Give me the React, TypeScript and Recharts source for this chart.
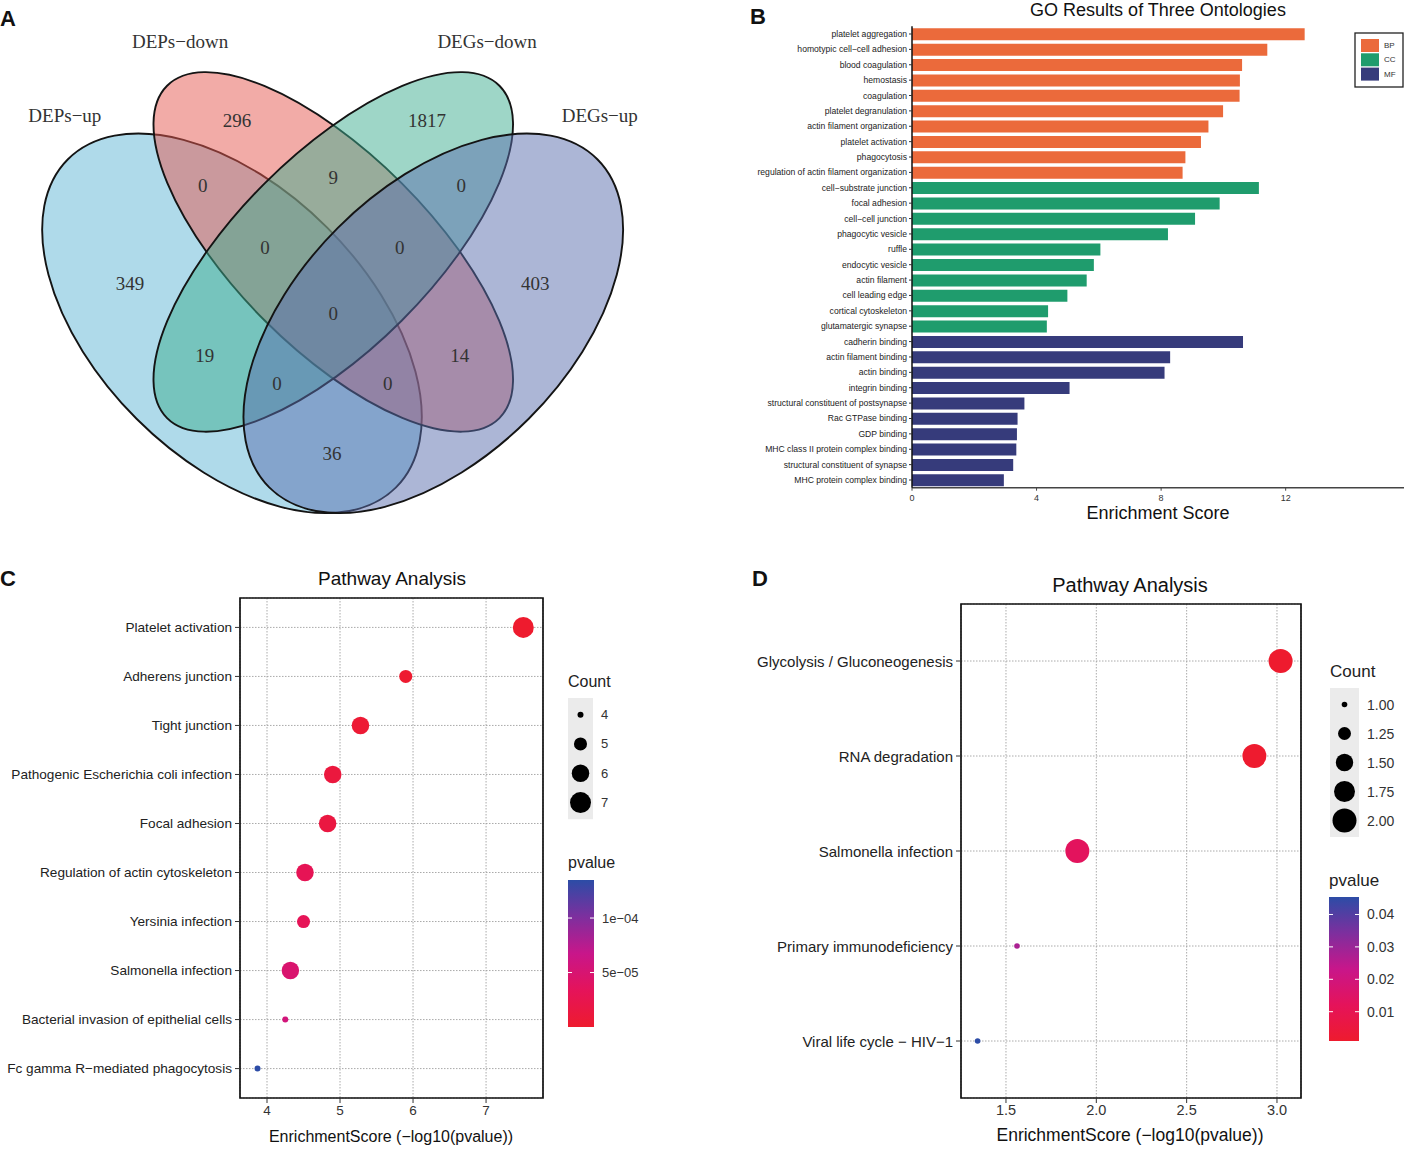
import React from 'react';
import {
  BarChart,
  Bar,
  Cell,
  XAxis,
  YAxis,
  ScatterChart,
  Scatter,
  CartesianGrid,
  ReferenceArea,
} from 'recharts';

// ---------- A: Venn ----------
const vennSetNames = ['DEPs−up', 'DEPs−down', 'DEGs−down', 'DEGs−up'];
// region counts, top to bottom
const vennCounts = [296, 1817, 0, 9, 0, 0, 0, 349, 0, 403, 19, 14, 0, 0, 36];

// layout only: centres in the Venn unit square (y up)
const VENN_ELLIPSES = [
  { x: 0.342, y: 0.471, rot: 45, rx: 232, ry: 135, fill: '#5FB6D6' },
  { x: 0.502, y: 0.576, rot: 45, rx: 235, ry: 97, fill: '#E5584F' },
  { x: 0.502, y: 0.576, rot: -45, rx: 235, ry: 97, fill: '#3DAE90' },
  { x: 0.66, y: 0.471, rot: -45, rx: 232, ry: 135, fill: '#5A6EAE' },
];
const VENN_SET_POS = [[0.078, 0.777], [0.26, 0.886], [0.745, 0.886], [0.923, 0.777]];
const VENN_COUNT_POS = [
  [0.35, 0.77], [0.65, 0.77], [0.296, 0.674], [0.502, 0.686], [0.704, 0.674],
  [0.394, 0.582], [0.607, 0.582], [0.181, 0.53], [0.502, 0.485], [0.821, 0.53],
  [0.299, 0.423], [0.702, 0.423], [0.413, 0.383], [0.588, 0.383], [0.5, 0.28],
];

// ---------- B: GO ----------
const bpTerms = [
  'platelet aggregation', 'homotypic cell−cell adhesion', 'blood coagulation', 'hemostasis',
  'coagulation', 'platelet degranulation', 'actin filament organization', 'platelet activation',
  'phagocytosis', 'regulation of actin filament organization',
];
const bpScores = [12.61, 11.41, 10.6, 10.53, 10.52, 9.99, 9.52, 9.28, 8.78, 8.69];
const ccTerms = [
  'cell−substrate junction', 'focal adhesion', 'cell−cell junction', 'phagocytic vesicle', 'ruffle',
  'endocytic vesicle', 'actin filament', 'cell leading edge', 'cortical cytoskeleton', 'glutamatergic synapse',
];
const ccScores = [11.14, 9.88, 9.09, 8.22, 6.05, 5.84, 5.61, 4.99, 4.37, 4.33];
const mfTerms = [
  'cadherin binding', 'actin filament binding', 'actin binding', 'integrin binding',
  'structural constituent of postsynapse', 'Rac GTPase binding', 'GDP binding',
  'MHC class II protein complex binding', 'structural constituent of synapse', 'MHC protein complex binding',
];
const mfScores = [10.63, 8.29, 8.11, 5.06, 3.61, 3.39, 3.37, 3.35, 3.25, 2.95];
const ontologies = ['BP', 'CC', 'MF'];
const goTicks = [0, 4, 8, 12];

// ---------- C / D: KEGG ----------
const upPathways = [
  'Platelet activation', 'Adherens junction', 'Tight junction', 'Pathogenic Escherichia coli infection',
  'Focal adhesion', 'Regulation of actin cytoskeleton', 'Yersinia infection', 'Salmonella infection',
  'Bacterial invasion of epithelial cells', 'Fc gamma R−mediated phagocytosis',
];
const upScores = [7.51, 5.9, 5.28, 4.9, 4.83, 4.52, 4.5, 4.32, 4.25, 3.87];
const upCounts = [7, 5, 6, 6, 6, 6, 5, 6, 4, 4];
const upCountLegend = [4, 5, 6, 7];
const upPTicks = [1e-4, 5e-5];
const upPTickLabels = ['1e−04', '5e−05'];

const downPathways = [
  'Glycolysis / Gluconeogenesis', 'RNA degradation', 'Salmonella infection',
  'Primary immunodeficiency', 'Viral life cycle − HIV−1',
];
const downScores = [3.02, 2.875, 1.895, 1.561, 1.343];
const downCounts = [2, 2, 2, 1, 1];
const downCountLegend = [1, 1.25, 1.5, 1.75, 2];
const downPTicks = [0.04, 0.03, 0.02, 0.01];

// ---------- styling ----------
const SANS = 'Liberation Sans, Arial, sans-serif';
const SERIF = 'Liberation Serif, Times New Roman, serif';
const ONT_COLORS: Record<string, string> = { BP: '#EB6A3B', CC: '#1F9C6D', MF: '#363B7B' };
const GRAD: [number, string][] = [
  [0, '#EE1B2E'], [0.25, '#E5135A'], [0.5, '#C8168A'], [0.75, '#7D2F9E'], [1, '#2C4CA6'],
];

function hex(h: string) {
  return [1, 3, 5].map((i) => parseInt(h.slice(i, i + 2), 16));
}
function gradColor(t: number) {
  const c = Math.max(0, Math.min(1, t));
  for (let i = 1; i < GRAD.length; i++) {
    if (c <= GRAD[i][0]) {
      const [t0, h0] = GRAD[i - 1];
      const [t1, h1] = GRAD[i];
      const f = (c - t0) / (t1 - t0);
      const a = hex(h0), b = hex(h1);
      return `rgb(${a.map((v, k) => Math.round(v + (b[k] - v) * f)).join(',')})`;
    }
  }
  return GRAD[GRAD.length - 1][1];
}
function radius(count: number, lo: number, hi: number, rMin: number, rMax: number) {
  const t = (count - lo) / (hi - lo);
  return Math.sqrt(rMin * rMin + (rMax * rMax - rMin * rMin) * t);
}

// ---------- derived tables ----------
const goRows = [
  ...bpTerms.map((term, i) => ({ term, score: bpScores[i], ont: 'BP' })),
  ...ccTerms.map((term, i) => ({ term, score: ccScores[i], ont: 'CC' })),
  ...mfTerms.map((term, i) => ({ term, score: mfScores[i], ont: 'MF' })),
];

function keggRows(names: string[], scores: number[], counts: number[]) {
  const p = scores.map((s) => Math.pow(10, -s));
  const pMin = Math.min(...p), pMax = Math.max(...p);
  return {
    pMin,
    pMax,
    rows: names.map((name, i) => ({
      name,
      row: i + 1,
      score: scores[i],
      count: counts[i],
      t: (p[i] - pMin) / (pMax - pMin),
    })),
  };
}
const up = keggRows(upPathways, upScores, upCounts);
const down = keggRows(downPathways, downScores, downCounts);

const vennShapes = VENN_ELLIPSES.map((e, i) => ({ ...e, name: vennSetNames[i] }));
const vennLabels = vennCounts.map((c, i) => ({ x: VENN_COUNT_POS[i][0], y: VENN_COUNT_POS[i][1], label: String(c) }));
const vennTitles = vennSetNames.map((n, i) => ({ x: VENN_SET_POS[i][0], y: VENN_SET_POS[i][1], label: n }));

// plain one-line tick text (no wrapping)
const flatTick = (fontSize: number, fill: string, fmt?: (v: any) => string) => (p: any) => (
  <text
    x={p.x}
    y={p.y}
    textAnchor={p.textAnchor}
    dominantBaseline="central"
    fontSize={fontSize}
    fill={fill}
    fontFamily={SANS}
  >
    {fmt ? fmt(p.payload.value) : p.payload.value}
  </text>
);

// ---------- panels ----------
function VennPanel() {
  return (
    <div style={{ position: 'absolute', left: 0, top: -40 }}>
      <ScatterChart width={700} height={700} margin={{ top: 3.6, right: 51.5, bottom: 16.4, left: 15.5 }}>
        <XAxis type="number" dataKey="x" domain={[0, 1]} hide />
        <YAxis type="number" dataKey="y" domain={[0, 1]} hide />
        <Scatter
          data={vennShapes}
          isAnimationActive={false}
          shape={(p: any) => (
            <ellipse
              cx={p.cx}
              cy={p.cy}
              rx={p.payload.rx}
              ry={p.payload.ry}
              transform={`rotate(${p.payload.rot} ${p.cx} ${p.cy})`}
              fill={p.payload.fill}
              fillOpacity={0.5}
              stroke="#141414"
              strokeWidth={1.9}
            />
          )}
        />
        <Scatter
          data={vennLabels}
          isAnimationActive={false}
          shape={(p: any) => (
            <text x={p.cx} y={p.cy} textAnchor="middle" dominantBaseline="central" fontFamily={SERIF} fontSize={19} fill="#333">
              {p.payload.label}
            </text>
          )}
        />
        <Scatter
          data={vennTitles}
          isAnimationActive={false}
          shape={(p: any) => (
            <text x={p.cx} y={p.cy} textAnchor="middle" dominantBaseline="central" fontFamily={SERIF} fontSize={19} fill="#333">
              {p.payload.label}
            </text>
          )}
        />
      </ScatterChart>
    </div>
  );
}

function GoPanel() {
  return (
    <div style={{ position: 'absolute', left: 740, top: 0 }}>
      <BarChart
        width={664}
        height={530}
        layout="vertical"
        data={goRows}
        barSize={12}
        margin={{ top: 26.3, right: 0, bottom: 0, left: 0 }}
      >
        <XAxis
          type="number"
          domain={[0, 15.8]}
          ticks={goTicks}
          allowDataOverflow
          height={42.3}
          tickSize={3}
          tickMargin={4}
          tick={{ fontSize: 9, fill: '#333', fontFamily: SANS }}
          axisLine={{ stroke: '#444', strokeWidth: 1.6 }}
          tickLine={{ stroke: '#444' }}
        />
        <YAxis
          type="category"
          dataKey="term"
          width={172}
          interval={0}
          tickSize={3}
          tickMargin={2}
          tick={flatTick(8.6, '#222')}
          axisLine={{ stroke: '#111', strokeWidth: 1.5 }}
          tickLine={{ stroke: '#333' }}
        />
        <Bar dataKey="score" isAnimationActive={false}>
          {goRows.map((r, i) => (
            <Cell key={i} fill={ONT_COLORS[r.ont]} />
          ))}
        </Bar>
      </BarChart>
    </div>
  );
}

function KeggPanel({
  data, names, left, top, width, height, margin, yWidth, xHeight, xDomain, xTicks, xFmt,
  tickFont, yFont, lo, hi, rMin, rMax,
}: any) {
  const yDomain = [0.4, names.length + 0.6];
  return (
    <div style={{ position: 'absolute', left, top }}>
      <ScatterChart width={width} height={height} margin={margin}>
        <CartesianGrid stroke="#a0a0a0" strokeDasharray="1.5 1.5" strokeWidth={0.9} />
        <XAxis
          type="number"
          dataKey="score"
          domain={xDomain}
          ticks={xTicks}
          allowDataOverflow
          height={xHeight}
          tickSize={5}
          tickFormatter={xFmt}
          tick={{ fontSize: tickFont, fill: '#333', fontFamily: SANS }}
          axisLine={false}
          tickLine={{ stroke: '#333' }}
        />
        <YAxis
          type="number"
          dataKey="row"
          domain={yDomain}
          ticks={names.map((_: string, i: number) => i + 1)}
          reversed
          allowDataOverflow
          interval={0}
          width={yWidth}
          tickSize={5}
          tickMargin={3}
          tick={flatTick(yFont, '#222', (v: number) => names[v - 1])}
          axisLine={false}
          tickLine={{ stroke: '#333' }}
        />
        <ReferenceArea
          x1={xDomain[0]}
          x2={xDomain[1]}
          y1={yDomain[0]}
          y2={yDomain[1]}
          fill="none"
          stroke="#111"
          strokeWidth={1.7}
        />
        <Scatter
          data={data.rows}
          isAnimationActive={false}
          shape={(p: any) => (
            <circle
              cx={p.cx}
              cy={p.cy}
              r={radius(p.payload.count, lo, hi, rMin, rMax)}
              fill={gradColor(p.payload.t)}
            />
          )}
        />
      </ScatterChart>
    </div>
  );
}

function CountLegend({ x, titleY, boxY, step, values, fmt, lo, hi, rMin, rMax, boxW, fontSize, titleSize }: any) {
  const boxH = step * values.length + 4;
  return (
    <g>
      <text x={x} y={titleY} dominantBaseline="central" fontSize={titleSize} fill="#222" fontFamily={SANS}>Count</text>
      <rect x={x} y={boxY} width={boxW} height={boxH} fill="#EBEBEB" />
      {values.map((v: number, i: number) => {
        const cy = boxY + 2 + step * (i + 0.5);
        return (
          <g key={i}>
            <circle cx={x + boxW / 2} cy={cy} r={radius(v, lo, hi, rMin, rMax)} fill="#000" />
            <text x={x + boxW + 8} y={cy} dominantBaseline="central" fontSize={fontSize} fill="#333" fontFamily={SANS}>
              {fmt(v)}
            </text>
          </g>
        );
      })}
    </g>
  );
}

function PLegend({ id, x, titleY, barY, barW, barH, pMin, pMax, ticks, labels, fontSize, titleSize }: any) {
  return (
    <g>
      <defs>
        <linearGradient id={id} x1="0" y1="1" x2="0" y2="0">
          {GRAD.map(([o, c]) => (
            <stop key={o} offset={o} stopColor={c} />
          ))}
        </linearGradient>
      </defs>
      <text x={x} y={titleY} dominantBaseline="central" fontSize={titleSize} fill="#222" fontFamily={SANS}>pvalue</text>
      <rect x={x} y={barY} width={barW} height={barH} fill={`url(#${id})`} />
      {ticks.map((v: number, i: number) => {
        const y = barY + barH - ((v - pMin) / (pMax - pMin)) * barH;
        return (
          <g key={i}>
            <line x1={x} x2={x + 4} y1={y} y2={y} stroke="#fff" strokeWidth={1} />
            <line x1={x + barW - 4} x2={x + barW} y1={y} y2={y} stroke="#fff" strokeWidth={1} />
            <text x={x + barW + 8} y={y} dominantBaseline="central" fontSize={fontSize} fill="#333" fontFamily={SANS}>
              {labels[i]}
            </text>
          </g>
        );
      })}
    </g>
  );
}

function Overlay() {
  const letter = { fontFamily: SANS, fontWeight: 700, fontSize: 22, fill: '#111' } as any;
  return (
    <svg width={1404} height={1150} style={{ position: 'absolute', left: 0, top: 0, pointerEvents: 'none' }}>
      <text x={0} y={18} dominantBaseline="central" {...letter}>A</text>
      <text x={750} y={16} dominantBaseline="central" {...letter}>B</text>
      <text x={0} y={578} dominantBaseline="central" {...letter}>C</text>
      <text x={752} y={578} dominantBaseline="central" {...letter}>D</text>

      <text x={1158} y={10} textAnchor="middle" dominantBaseline="central" fontFamily={SANS} fontSize={18} fill="#111">
        GO Results of Three Ontologies
      </text>
      <text x={1158} y={513} textAnchor="middle" dominantBaseline="central" fontFamily={SANS} fontSize={18} fill="#111">
        Enrichment Score
      </text>
      <rect x={1355} y={33} width={48} height={54} fill="#fff" stroke="#222" strokeWidth={1.3} />
      {ontologies.map((o, i) => (
        <g key={o}>
          <rect x={1361} y={39 + i * 14.3} width={18} height={13} fill={ONT_COLORS[o]} />
          <text x={1384} y={45.5 + i * 14.3} dominantBaseline="central" fontFamily={SANS} fontSize={8} fill="#333">{o}</text>
        </g>
      ))}

      <text x={392} y={578} textAnchor="middle" dominantBaseline="central" fontFamily={SANS} fontSize={19} fill="#111">
        Pathway Analysis
      </text>
      <text x={391} y={1136} textAnchor="middle" dominantBaseline="central" fontFamily={SANS} fontSize={16} fill="#111">
        EnrichmentScore (−log10(pvalue))
      </text>
      <CountLegend x={568} titleY={681} boxY={698} step={29.3} values={upCountLegend} fmt={(v: number) => String(v)}
        lo={4} hi={7} rMin={3} rMax={10.5} boxW={25} fontSize={13} titleSize={16} />
      <PLegend id="pc" x={568} titleY={862} barY={880} barW={26} barH={147} pMin={up.pMin} pMax={up.pMax}
        ticks={upPTicks} labels={upPTickLabels} fontSize={13} titleSize={16} />

      <text x={1130} y={585} textAnchor="middle" dominantBaseline="central" fontFamily={SANS} fontSize={20} fill="#111">
        Pathway Analysis
      </text>
      <text x={1130} y={1135} textAnchor="middle" dominantBaseline="central" fontFamily={SANS} fontSize={17.5} fill="#111">
        EnrichmentScore (−log10(pvalue))
      </text>
      <CountLegend x={1330} titleY={671} boxY={688} step={29} values={downCountLegend} fmt={(v: number) => v.toFixed(2)}
        lo={1} hi={2} rMin={2.8} rMax={12} boxW={29} fontSize={14} titleSize={17} />
      <PLegend id="pd" x={1329} titleY={880} barY={897} barW={30} barH={144} pMin={down.pMin} pMax={down.pMax}
        ticks={downPTicks} labels={downPTicks.map((v) => v.toFixed(2))} fontSize={14} titleSize={17} />
    </svg>
  );
}

export default function App() {
  return (
    <div style={{ position: 'absolute', left: 0, top: 0, width: 1404, height: 1150, overflow: 'hidden', background: '#fff', fontFamily: SANS }}>
      <VennPanel />
      <GoPanel />
      <KeggPanel
        data={up}
        names={upPathways}
        left={0}
        top={560}
        width={660}
        height={580}
        margin={{ top: 38, right: 117, bottom: 0, left: 0 }}
        yWidth={240}
        xHeight={42}
        xDomain={[3.63, 7.78]}
        xTicks={[4, 5, 6, 7]}
        xFmt={(v: number) => String(v)}
        tickFont={13.5}
        yFont={13.6}
        lo={4}
        hi={7}
        rMin={3}
        rMax={10.5}
      />
      <KeggPanel
        data={down}
        names={downPathways}
        left={740}
        top={560}
        width={664}
        height={590}
        margin={{ top: 44, right: 103, bottom: 0, left: 0 }}
        yWidth={221}
        xHeight={52}
        xDomain={[1.251, 3.133]}
        xTicks={[1.5, 2, 2.5, 3]}
        xFmt={(v: number) => v.toFixed(1)}
        tickFont={14.5}
        yFont={15}
        lo={1}
        hi={2}
        rMin={2.8}
        rMax={12}
      />
      <Overlay />
    </div>
  );
}
